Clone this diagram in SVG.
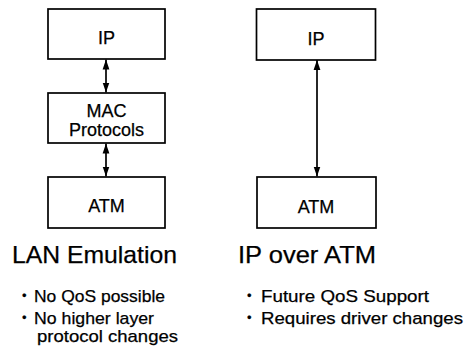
<svg xmlns="http://www.w3.org/2000/svg" width="466" height="353" viewBox="0 0 466 353">
  <defs>
    <marker id="head" viewBox="0 0 10 10" refX="10" refY="5" markerWidth="10" markerHeight="10" markerUnits="userSpaceOnUse" orient="auto-start-reverse">
      <path d="M0,1.6 L10,5 L0,8.4 Z" fill="#000"/>
    </marker>
    <style>
      text { fill: #000; stroke: #000; stroke-width: 0.25; font-family: "Liberation Sans", Arial, sans-serif; }
      .box { fill: #fff; stroke: #000; stroke-width: 1.7; }
      .lbl { font-size: 18px; text-anchor: middle; }
      .title { font-size: 24px; }
      .item { font-size: 17px; }
      .dot { font-size: 13px; }
      .link { stroke: #000; stroke-width: 1.7; fill: none; marker-start: url(#head); marker-end: url(#head); }
    </style>
  </defs>

  <!-- connectors -->
  <g id="connectors">
    <line class="link" x1="106" y1="59.5" x2="106" y2="92.5"/>
    <line class="link" x1="106" y1="143.5" x2="106" y2="176.5"/>
    <line class="link" x1="317" y1="60" x2="317" y2="176.5"/>
  </g>

  <!-- LAN Emulation stack -->
  <g id="lane-ip">
    <rect class="box" x="48" y="9" width="117" height="50"/>
    <text class="lbl" x="106.5" y="44">IP</text>
  </g>
  <g id="lane-mac">
    <rect class="box" x="48" y="93" width="117" height="50"/>
    <text class="lbl" x="106.5" y="116.5">MAC</text>
    <text class="lbl" x="106.5" y="135.5">Protocols</text>
  </g>
  <g id="lane-atm">
    <rect class="box" x="48" y="177" width="117" height="51"/>
    <text class="lbl" x="106.5" y="212">ATM</text>
  </g>

  <!-- IP over ATM stack -->
  <g id="ipoa-ip">
    <rect class="box" x="256.5" y="9" width="119" height="51"/>
    <text class="lbl" x="316" y="45">IP</text>
  </g>
  <g id="ipoa-atm">
    <rect class="box" x="257" y="177" width="119" height="51"/>
    <text class="lbl" x="316" y="213">ATM</text>
  </g>

  <!-- captions -->
  <g id="lane-caption">
    <text class="title" x="12" y="263" textLength="165" lengthAdjust="spacingAndGlyphs">LAN Emulation</text>
    <text class="dot" x="22" y="300">•</text>
    <text class="item" x="34" y="302" textLength="131" lengthAdjust="spacingAndGlyphs">No QoS possible</text>
    <text class="dot" x="22" y="322">•</text>
    <text class="item" x="34" y="324" textLength="120" lengthAdjust="spacingAndGlyphs">No higher layer</text>
    <text class="item" x="37" y="342" textLength="141" lengthAdjust="spacingAndGlyphs">protocol changes</text>
  </g>
  <g id="ipoa-caption">
    <text class="title" x="238" y="263" textLength="138" lengthAdjust="spacingAndGlyphs">IP over ATM</text>
    <text class="dot" x="247" y="300">•</text>
    <text class="item" x="261" y="302" textLength="168" lengthAdjust="spacingAndGlyphs">Future QoS Support</text>
    <text class="dot" x="247" y="322">•</text>
    <text class="item" x="261" y="324" textLength="202" lengthAdjust="spacingAndGlyphs">Requires driver changes</text>
  </g>
</svg>
